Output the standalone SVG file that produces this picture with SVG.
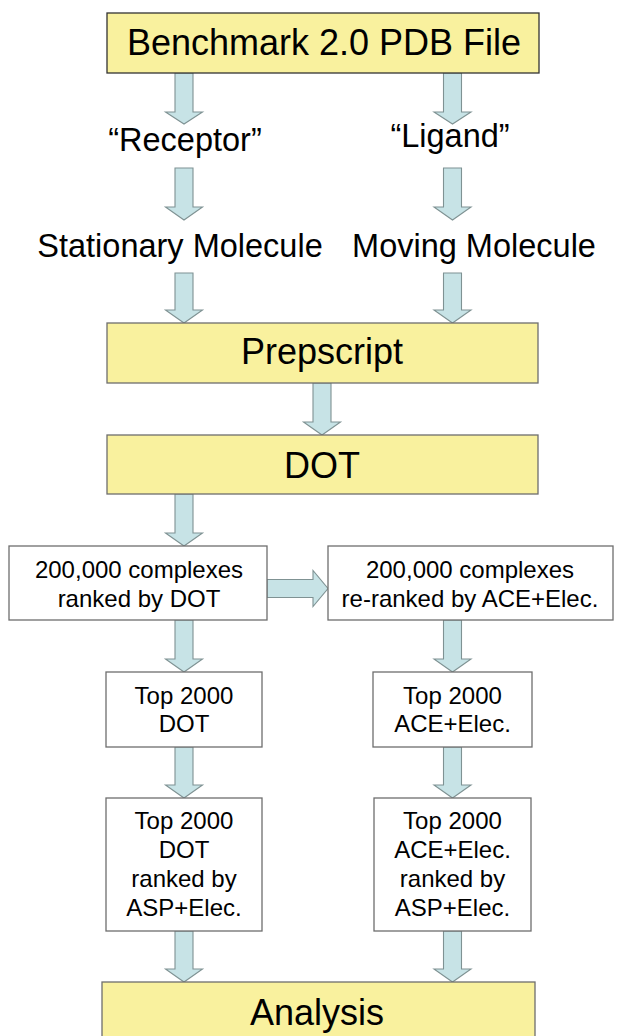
<svg xmlns="http://www.w3.org/2000/svg" width="621" height="1036" viewBox="0 0 621 1036">
<defs>
<style>
.y{fill:#f9f19e;stroke:#6e6e6e;stroke-width:1.3}
.w{fill:#ffffff;stroke:#6e6e6e;stroke-width:1.3}
.a{fill:#c7e3e6;stroke:#7f9293;stroke-width:1.1}
text{font-family:"Liberation Sans",Arial,sans-serif;fill:#000;text-anchor:middle}
.big{font-size:36px}
.mid{font-size:32.5px}
.sm{font-size:24px}
</style>
</defs>
<rect width="621" height="1036" fill="#ffffff"/>
<g id="connectors">
<path class="a" d="M175,73H193V112H202.5L184,124L165.5,112H175Z"/>
<path class="a" d="M443.5,73H461.5V112H471L452.5,124L434,112H443.5Z"/>
<path class="a" d="M175,168H193V207H202.5L184,220L165.5,207H175Z"/>
<path class="a" d="M443.5,168H461.5V207H471L452.5,220L434,207H443.5Z"/>
<path class="a" d="M175,273H193V310H202.5L184,323L165.5,310H175Z"/>
<path class="a" d="M443.5,273H461.5V310H471L452.5,323L434,310H443.5Z"/>
<path class="a" d="M313,383H331V422H340.5L322,435L303.5,422H313Z"/>
<path class="a" d="M175,494H193V533H202.5L184,546L165.5,533H175Z"/>
<path class="a" d="M175,620H193V659H202.5L184,672L165.5,659H175Z"/>
<path class="a" d="M443.5,620H461.5V659H471L452.5,672L434,659H443.5Z"/>
<path class="a" d="M175,747H193V785H202.5L184,798L165.5,785H175Z"/>
<path class="a" d="M443.5,747H461.5V785H471L452.5,798L434,785H443.5Z"/>
<path class="a" d="M175,931H193V969H202.5L184,982L165.5,969H175Z"/>
<path class="a" d="M443.5,931H461.5V969H471L452.5,982L434,969H443.5Z"/>
<path class="a" d="M267,579.5H313V570.5L328,588.5L313,606.5V597.5H267Z"/>
</g>
<g id="pdb">
<rect class="y" x="107" y="13" width="432" height="60" style="stroke:#333"/>
<text class="big" x="324" y="55">Benchmark 2.0 PDB File</text>
</g>
<g id="receptor">
<text class="mid" x="185" y="151">“Receptor”</text>
</g>
<g id="ligand">
<text class="mid" x="450" y="147">“Ligand”</text>
</g>
<g id="stationary">
<text class="mid" x="180" y="257">Stationary Molecule</text>
</g>
<g id="moving">
<text class="mid" x="474" y="257">Moving Molecule</text>
</g>
<g id="prepscript">
<rect class="y" x="107" y="323" width="431" height="60"/>
<text class="big" x="322" y="364">Prepscript</text>
</g>
<g id="dot">
<rect class="y" x="107" y="435" width="431" height="59"/>
<text class="big" x="322" y="478">DOT</text>
</g>
<g id="ranked-dot">
<rect class="w" x="9" y="546" width="258" height="74"/>
<text class="sm" x="139" y="578">200,000 complexes</text>
<text class="sm" x="139" y="607">ranked by DOT</text>
</g>
<g id="reranked-ace">
<rect class="w" x="328" y="546" width="285" height="74"/>
<text class="sm" x="470" y="578">200,000 complexes</text>
<text class="sm" x="470" y="607">re-ranked by ACE+Elec.</text>
</g>
<g id="top-dot">
<rect class="w" x="106" y="672" width="156" height="75"/>
<text class="sm" x="184" y="704">Top 2000</text>
<text class="sm" x="184" y="732">DOT</text>
</g>
<g id="top-ace">
<rect class="w" x="373" y="672" width="159" height="75"/>
<text class="sm" x="452.5" y="704">Top 2000</text>
<text class="sm" x="452.5" y="732">ACE+Elec.</text>
</g>
<g id="top-dot-asp">
<rect class="w" x="106" y="798" width="156" height="133"/>
<text class="sm" x="184" y="829">Top 2000</text>
<text class="sm" x="184" y="858">DOT</text>
<text class="sm" x="184" y="887">ranked by</text>
<text class="sm" x="184" y="916">ASP+Elec.</text>
</g>
<g id="top-ace-asp">
<rect class="w" x="374" y="798" width="157" height="133"/>
<text class="sm" x="452.5" y="829">Top 2000</text>
<text class="sm" x="452.5" y="858">ACE+Elec.</text>
<text class="sm" x="452.5" y="887">ranked by</text>
<text class="sm" x="452.5" y="916">ASP+Elec.</text>
</g>
<g id="analysis">
<rect class="y" x="102" y="982" width="433" height="70"/>
<text class="big" x="317" y="1025">Analysis</text>
</g>
</svg>
